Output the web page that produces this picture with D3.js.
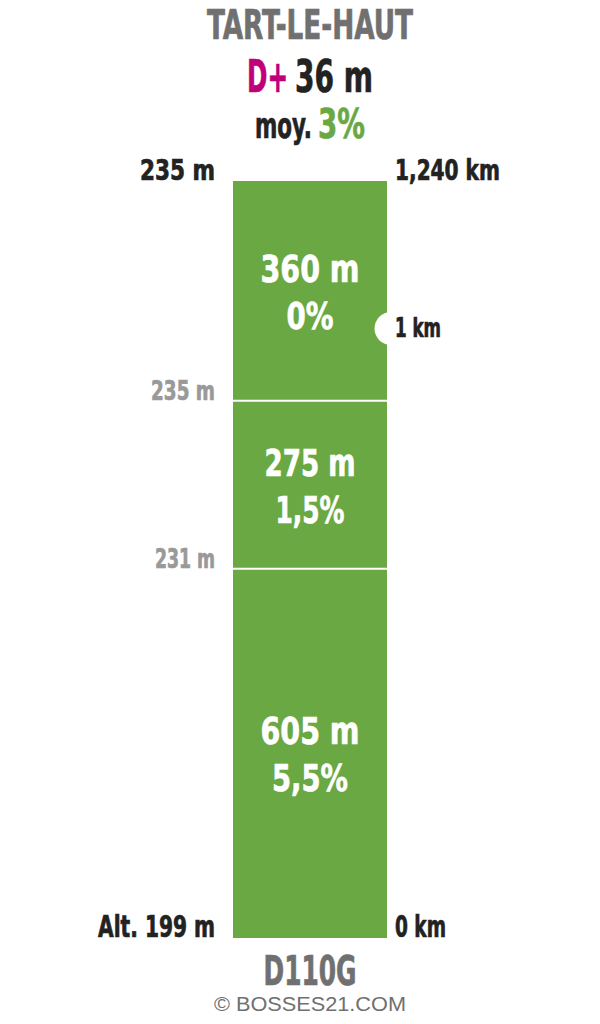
<!DOCTYPE html>
<html><head><meta charset="utf-8">
<script src="https://cdn.jsdelivr.net/npm/d3@7"></script>
<style>body{margin:0;background:#fff}svg{display:block}</style>
</head><body>
<script>
const climbName = "TART-LE-HAUT";
const roadName = "D110G";
const totalGain = 36;      // m
const avgGrade = "3%";
const startAlt = 199;
const topAlt = 235;
const totalKmLabel = "1,240";
const totalKm = 1.240;
// segments bottom -> top
const segLengths = [605, 275, 360];
const segGrades = ["5,5%", "1,5%", "0%"];
const segTopAlts = [231, 235, 235];
const kmMarks = [1];

const W = 600, H = 1024;
const F = "'Liberation Sans Narrow','DejaVu Sans Condensed','Arial Narrow',sans-serif";
const svg = d3.select("body").append("svg").attr("width", W).attr("height", H);

const x0 = 233, x1 = 387, cx = 310;
const y = d3.scaleLinear().domain([0, totalKm * 1000]).range([938, 181]);

// text drawn at origin, then squeezed horizontally to the wanted width
function txt(s, x, yy, size, fill, anchor, width, fam) {
  const t = svg.append("text").attr("x", 0).attr("y", 0).attr("font-family", fam || F)
    .attr("font-weight", fam ? "normal" : "bold").attr("font-size", size).attr("fill", fill)
    .attr("text-anchor", anchor || "middle").text(s);
  if (!fam) t.attr("stroke", fill).attr("stroke-width", 0.7);
  let sx = 1;
  if (width) { const n = t.node().getComputedTextLength(); if (n > 0) sx = width / n; }
  t.attr("transform", `translate(${x},${yy}) scale(${sx},1)`);
  return t;
}

// segments
let cum = 0;
const segs = segLengths.map((l, i) => { const s = {start: cum, end: cum + l, len: l, grade: segGrades[i], topAlt: segTopAlts[i]}; cum += l; return s; });
svg.selectAll("rect.seg").data(segs).join("rect").attr("class", "seg")
  .attr("x", x0).attr("width", x1 - x0)
  .attr("y", d => y(d.end)).attr("height", d => y(d.start) - y(d.end))
  .attr("fill", "#6aa843");
svg.selectAll("line.sep").data(segs.slice(0, -1)).join("line").attr("class", "sep")
  .attr("x1", x0).attr("x2", x1).attr("y1", d => y(d.end)).attr("y2", d => y(d.end))
  .attr("stroke", "#fff").attr("stroke-width", 2);

const lenW = {"605 m": 99, "275 m": 91, "360 m": 99};
const gradeW = {"5,5%": 76, "1,5%": 69, "0%": 47};
const altW = {"231 m": 60, "235 m": 64};
segs.forEach((d, i) => {
  const m = (y(d.start) + y(d.end)) / 2;
  txt(d.len + " m", cx, m - 9, 38, "#fff", "middle", lenW[d.len + " m"]);
  txt(d.grade, cx, m + 38, 38, "#fff", "middle", gradeW[d.grade]);
  if (i < segs.length - 1) txt(d.topAlt + " m", 215, y(d.end) - 1, 26, "#999", "end", altW[d.topAlt + " m"]);
});

// km marks
kmMarks.forEach(k => {
  svg.append("circle").attr("cx", x1 + 4).attr("cy", y(k * 1000) + 1).attr("r", 16.5).attr("fill", "#fff");
  txt(k + " km", 395, y(k * 1000) + 9, 26, "#222", "start", 46);
});

// header
txt(climbName, cx, 39, 40, "#707070", "middle", 206);
txt("D+", 247, 92, 44, "#c0007a", "start", 41);
txt(totalGain + " m", 373, 92, 44, "#222", "end", 78);
txt("moy.", 255, 138, 36, "#222", "start", 57);
txt(avgGrade, 365, 138, 41, "#6aa843", "end", 47);

txt(topAlt + " m", 215, 180, 29, "#222", "end", 75);
txt(totalKmLabel + " km", 395, 180, 29, "#222", "start", 105);
txt("Alt. " + startAlt + " m", 215, 937, 30, "#222", "end", 117);
txt("0 km", 395, 937, 30, "#222", "start", 51);
txt(roadName, cx, 985, 41, "#707070", "middle", 93);
txt("© BOSSES21.COM", cx, 1011, 20, "#707070", "middle", 192, "'Liberation Sans',Arial,sans-serif");
</script>
</body></html>
